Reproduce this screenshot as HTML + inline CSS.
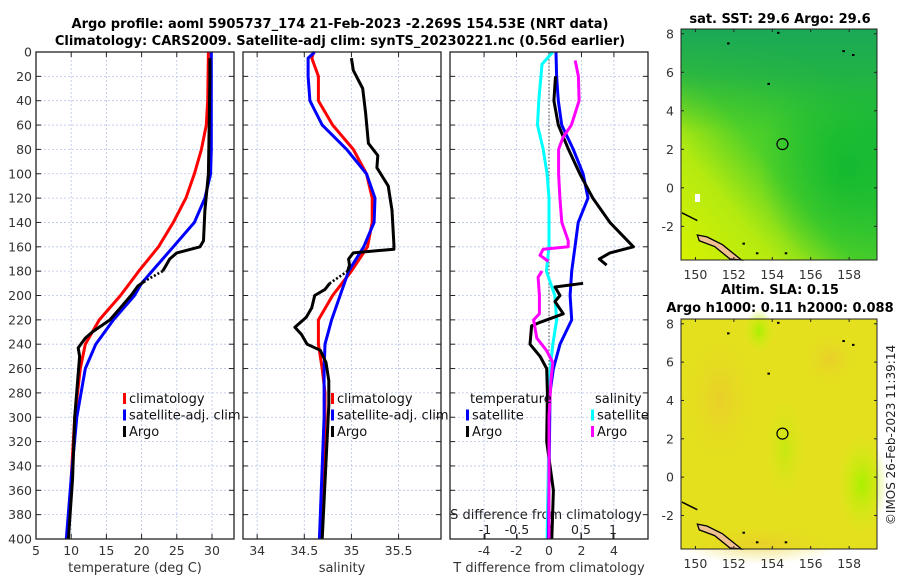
<!DOCTYPE html>
<html><head><meta charset="utf-8"><style>
body{margin:0;background:#fff;width:900px;height:580px;overflow:hidden;font-family:"Liberation Sans","DejaVu Sans",sans-serif}
svg text{font-family:"DejaVu Sans","Liberation Sans",sans-serif}
</style></head><body>
<svg id="fig" width="900" height="580" xmlns="http://www.w3.org/2000/svg">
<defs>
<linearGradient id="sstBase" x1="0" y1="1" x2="0.8" y2="0.2">
<stop offset="0" stop-color="#d8f200"/><stop offset="0.3" stop-color="#b4ea10"/><stop offset="0.55" stop-color="#50d028"/><stop offset="1" stop-color="#1cbc3c"/></linearGradient>
<linearGradient id="sstTop" x1="0" y1="0" x2="0" y2="1">
<stop offset="0" stop-color="#1aa858" stop-opacity="1"/><stop offset="0.2" stop-color="#22b048" stop-opacity="0.8"/><stop offset="0.45" stop-color="#33c030" stop-opacity="0"/></linearGradient>
<radialGradient id="sstRight" cx="0.85" cy="0.6" r="0.45"><stop offset="0" stop-color="#10b830" stop-opacity="0.9"/><stop offset="1" stop-color="#10b830" stop-opacity="0"/></radialGradient>
<radialGradient id="slaG1" cx="0.5" cy="0.5" r="0.5"><stop offset="0" stop-color="#a8f000"/><stop offset="1" stop-color="#d0ee10" stop-opacity="0"/></radialGradient>
<radialGradient id="slaO" cx="0.5" cy="0.5" r="0.5"><stop offset="0" stop-color="#ecc430"/><stop offset="1" stop-color="#e6dc20" stop-opacity="0"/></radialGradient>
</defs>
<g id="titles" font-weight="bold" font-size="13" fill="#000">
<text x="340" y="28" text-anchor="middle">Argo profile: aoml 5905737_174 21-Feb-2023 -2.269S 154.53E (NRT data)</text>
<text x="340" y="45" text-anchor="middle">Climatology: CARS2009. Satellite-adj clim: synTS_20230221.nc (0.56d earlier)</text>
<text x="780" y="23" text-anchor="middle">sat. SST: 29.6 Argo: 29.6</text>
<text x="780" y="294" text-anchor="middle">Altim. SLA: 0.15</text>
<text x="780" y="312" text-anchor="middle">Argo h1000: 0.11 h2000: 0.088</text>
</g>
<g id="panels"></g>
<g id="maps"></g>
<text transform="translate(895,435) rotate(-90)" text-anchor="middle" font-size="12" fill="#222">©IMOS 26-Feb-2023 11:39:14</text>
</svg>
<script>
// ---- data ----
const depthTicks=[0,20,40,60,80,100,120,140,160,180,200,220,240,260,280,300,320,340,360,380,400];
const tempTicks=[5,10,15,20,25,30];
const salTicks=[34,34.5,35,35.5];
const tdTicks=[-4,-2,0,2,4];
const sdTicks=[-1,-0.5,0,0.5,1];
const tClimD=[0,40,60,80,100,120,140,160,180,200,220,240,260,300,350,400];
const tClimV=[29.5,29.4,29.2,28.5,27.5,26.3,24.5,22.4,19.6,17,14,12,11.3,10.5,10,9.5];
const tSatD=[0,80,100,120,140,160,180,190,200,220,240,260,300,350,400];
const tSatV=[29.9,29.9,29.8,29,27.5,24.5,21.5,20,19,16,13.5,12,10.8,10,9.3];
const tArgoD=[5,20,60,100,130,155,160,165,170,175,180,null,188,192,200,210,220,230,235,243,250,300,350,400];
const tArgoV=[29.7,29.7,29.6,29.5,29,28.8,28.3,25,24,23.5,23,null,20.5,19.5,18.5,17,15.5,13,12,11,11.2,10.5,10.2,9.6];
const sClimD=[0,5,20,40,60,80,100,120,140,160,180,200,220,240,260,280,300,400];
const sClimV=[34.6,34.58,34.65,34.65,34.8,35.02,35.16,35.22,35.22,35.17,35,34.8,34.65,34.65,34.69,34.72,34.72,34.68];
const sSatD=[0,5,20,40,60,80,100,120,140,160,180,200,220,240,260,300,400];
const sSatV=[34.61,34.54,34.54,34.56,34.69,34.95,35.16,35.25,35.24,35.13,34.97,34.88,34.79,34.72,34.71,34.71,34.66];
const sArgoD=[5,15,30,50,75,85,95,110,130,158,162,165,170,175,180,null,190,195,200,210,218,226,232,240,245,255,270,290,400];
const sArgoV=[35,35.02,35.12,35.15,35.18,35.28,35.27,35.39,35.43,35.45,35.45,35.02,34.97,34.98,34.96,null,34.77,34.72,34.61,34.58,34.52,34.4,34.47,34.53,34.67,34.73,34.76,34.76,34.69];
const dtSatD=[0,20,40,60,80,100,120,140,160,180,200,220,240,260,280,400];
const dtSatV=[0.43,0.47,0.57,0.78,1.5,2.1,2.4,1.8,1.6,1.4,1.3,1.4,0.68,0.27,0.06,-0.04];
const dtArgoD=[20,40,60,80,100,120,140,160,165,170,175,null,190,193,200,205,215,222,225,240,250,260,280,320,360,400];
const dtArgoV=[0.4,0.3,0.57,1.2,1.9,2.7,3.75,5.2,3.75,3.1,3.55,null,2.1,0.37,0.68,0.37,0.88,-0.55,-1.07,-1.17,-0.55,-0.14,-0.1,-0.14,0.27,0.17];
const dsSatD=[0,10,40,60,80,100,120,160,180,200,220,240,260,280,400];
const dsSatV=[0.06,-0.11,-0.16,-0.18,-0.09,-0.03,0,0,-0.04,0.09,0.12,0.06,0.02,0.01,-0.03];
const dsArgoD=[7,20,40,60,70,80,100,120,140,155,160,162,167,172,null,180,185,200,215,220,235,245,255,270,300,400];
const dsArgoV=[0.41,0.46,0.47,0.35,0.22,0.15,0.15,0.17,0.2,0.3,0.3,-0.09,-0.14,-0.01,null,-0.11,-0.17,-0.15,-0.15,-0.24,-0.19,-0.04,0.06,0.03,0,0];
const mapLonTicks=[150,152,154,156,158];
const mapLatTicks=[-2,0,2,4,6,8];
const floatLon=[154.53], floatLat=[2.27];

// ---- drawing ----
const NS='http://www.w3.org/2000/svg';
const Y0=52,Y1=539;
const yD=d=>Y0+(Y1-Y0)*d/400;
function mk(tag,attrs,parent){const e=document.createElementNS(NS,tag);for(const k in attrs)e.setAttribute(k,attrs[k]);parent.appendChild(e);return e;}
function lin(a,b,px0,px1){return v=>px0+(v-a)/(b-a)*(px1-px0);}
const P=document.getElementById('panels');
const panels=[{x0:36,x1:234,lo:5,hi:33.13,ticks:tempTicks,lab:'temperature (deg C)',nm:'temperature'},
{x0:243,x1:441,lo:33.85,hi:35.95,ticks:salTicks,lab:'salinity',nm:'salinity'},
{x0:450,x1:648,lo:-6.1,hi:6.1,ticks:tdTicks,lab:'T difference from climatology',nm:'difference'}];
const xf=panels.map(p=>lin(p.lo,p.hi,p.x0,p.x1));
const xs=lin(-1.547,1.547,450,648);
panels.forEach((p,i)=>{
  const g=mk('g',{},P);
  
  
  depthTicks.forEach(d=>{const y=yD(d);
    mk('line',{x1:p.x0,x2:p.x1,y1:y,y2:y,stroke:'#b8c4e8','stroke-width':0.8,'stroke-dasharray':'2,2'},g);
    mk('line',{x1:p.x0,x2:p.x0+5,y1:y,y2:y,stroke:'#222'},g);
    mk('line',{x1:p.x1-5,x2:p.x1,y1:y,y2:y,stroke:'#222'},g);
    if(i==0){const t=mk('text',{x:p.x0-4,y:y+4.5,'text-anchor':'end','font-size':12.5,fill:'#333'},g);t.textContent=d;
      
      }
  });
  p.ticks.forEach(v=>{const x=xf[i](v);
    mk('line',{x1:x,x2:x,y1:Y0,y2:Y1,stroke:'#b8c4e8','stroke-width':0.8,'stroke-dasharray':'2,2'},g);
    mk('line',{x1:x,x2:x,y1:Y1-5,y2:Y1,stroke:'#222'},g);
    mk('line',{x1:x,x2:x,y1:Y0,y2:Y0+5,stroke:'#222'},g);
    const t=mk('text',{x:x,y:555,'text-anchor':'middle','font-size':12.5,fill:'#333'},g);t.textContent=v;
    
    
  });
  const xl=mk('text',{x:(p.x0+p.x1)/2,y:572,'text-anchor':'middle','font-size':13,fill:'#333'},g);xl.textContent=p.lab;
  
  
});
sdTicks.forEach(v=>{const x=xs(v);
  mk('line',{x1:x,x2:x,y1:Y1-5,y2:Y1,stroke:'#222'},P);
  const t=mk('text',{x:x,y:534,'text-anchor':'middle','font-size':12.5,fill:'#222'},P);t.textContent=v;
  
  
});
{const t=mk('text',{x:546,y:519,'text-anchor':'middle','font-size':13,fill:'#222'},P);t.textContent='S difference from climatology';

}
mk('line',{x1:xf[2](0),x2:xf[2](0),y1:Y0,y2:Y1,stroke:'#444','stroke-dasharray':'1.5,2','stroke-width':1},P);
function series(D,V,fx,col,name,dotGap){
  let d='',pen=false,gap='',last=null;
  D.forEach((dd,k)=>{if(dd===null){pen=false;return;}
    const x=fx(V[k]).toFixed(1),y=yD(dd).toFixed(1);
    if(!pen&&last)gap+='M'+last+'L'+x+','+y;
    d+=(pen?'L':'M')+x+','+y;pen=true;last=x+','+y;});
  if(gap&&dotGap){const e=mk('path',{d:gap,fill:'none',stroke:col,'stroke-width':2.6,'stroke-dasharray':'2,2'},P);
    
    }
  const e=mk('path',{d:d,fill:'none',stroke:col,'stroke-width':3,'stroke-linejoin':'round'},P);
  
  
}
series(tClimD,tClimV,xf[0],'#f00','temp-climatology-line');
series(tSatD,tSatV,xf[0],'#00f','temp-satellite-line');
series(tArgoD,tArgoV,xf[0],'#000','temp-argo-line',true);
series(sClimD,sClimV,xf[1],'#f00','sal-climatology-line');
series(sSatD,sSatV,xf[1],'#00f','sal-satellite-line');
series(sArgoD,sArgoV,xf[1],'#000','sal-argo-line',true);
series(dsSatD,dsSatV,xs,'#0ff','sdiff-satellite-line');
series(dtSatD,dtSatV,xf[2],'#00f','tdiff-satellite-line');
series(dtArgoD,dtArgoV,xf[2],'#000','tdiff-argo-line');
series(dsArgoD,dsArgoV,xs,'#f0f','sdiff-argo-line');
panels.forEach(p=>mk('rect',{x:p.x0,y:Y0,width:p.x1-p.x0,height:Y1-Y0,fill:'none',stroke:'#222','stroke-width':1.3},P));
function legend(x,y,items,name){
  const g=mk('g',{},P);
  
  
  items.forEach((it,k)=>{const yy=y+k*16.5;
    if(it[1])mk('rect',{x:x,y:yy-9,width:3,height:11,fill:it[1]},g);
    const t=mk('text',{x:it[1]?x+6:x,y:yy+1,'font-size':13,fill:'#111'},g);t.textContent=it[0];});
}
legend(123,402,[['climatology','#f00'],['satellite-adj. clim','#00f'],['Argo','#000']],'temp-legend');
legend(331,402,[['climatology','#f00'],['satellite-adj. clim','#00f'],['Argo','#000']],'sal-legend');
legend(470,402,[['temperature',null]],'tdiff-legend-title');
legend(466,418.5,[['satellite','#00f'],['Argo','#000']],'tdiff-legend');
legend(595,402,[['salinity',null]],'sdiff-legend-title');
legend(591,418.5,[['satellite','#0ff'],['Argo','#f0f']],'sdiff-legend');

// ---- maps ----
const M=document.getElementById('maps');
const maps=[{y0:29,y1:260,nm:'sst-map'},{y0:319,y1:549,nm:'sla-map'}];
const mx=lin(149.25,159.45,681,877);
maps.forEach((m,i)=>{
  const my=lin(-3.75,8.25,m.y1,m.y0);
  const g=mk('g',{},M);
  
  
  const W=196,H=m.y1-m.y0;
  if(i==0){
    mk('rect',{x:681,y:m.y0,width:W,height:H,fill:'url(#sstBase)'},g);
    mk('rect',{x:681,y:m.y0,width:W,height:H,fill:'url(#sstRight)'},g);
    mk('rect',{x:681,y:m.y0,width:W,height:H,fill:'url(#sstTop)'},g);
    mk('rect',{x:695,y:194,width:5,height:8,fill:'#fff'},g);
  } else {
    mk('rect',{x:681,y:m.y0,width:W,height:H,fill:'#e4e01e'},g);
    mk('ellipse',{cx:720,cy:m.y0+80,rx:40,ry:70,fill:'url(#slaO)',opacity:0.6},g);
    mk('ellipse',{cx:830,cy:m.y0+40,rx:30,ry:30,fill:'url(#slaO)',opacity:0.6},g);
    mk('ellipse',{cx:760,cy:m.y0+225,rx:80,ry:20,fill:'url(#slaO)',opacity:0.6},g);
    mk('ellipse',{cx:759,cy:m.y0+12,rx:15,ry:22,fill:'url(#slaG1)'},g);
    mk('ellipse',{cx:862,cy:m.y0+165,rx:25,ry:50,fill:'url(#slaG1)'},g);
    mk('ellipse',{cx:785,cy:m.y0+130,rx:20,ry:50,fill:'url(#slaG1)','opacity':0.5},g);
  }
  mk('path',{d:`M${mx(150.1)},${my(-2.45)} L${mx(150.6)},${my(-2.55)} L${mx(151.4)},${my(-2.95)} L${mx(152.4)},${my(-3.75)} L${mx(151.8)},${my(-3.7)} L${mx(151)},${my(-3.05)} L${mx(150.2)},${my(-2.75)} Z`,fill:'#f0c090',stroke:'#000','stroke-width':1.3},g);
  mk('path',{d:`M${mx(149.3)},${my(-1.3)} L${mx(149.9)},${my(-1.6)} L${mx(150.1)},${my(-1.7)}`,fill:'none',stroke:'#000','stroke-width':1.5},g);
  [[151.7,7.5],[152.5,-2.9],[153.8,5.4],[158.2,6.9],[157.7,7.1],[153.2,-3.4],[154.7,-3.4],[154.3,8.05]].forEach(c=>
    mk('rect',{x:mx(c[0])-1,y:my(c[1])-1,width:2.5,height:2,fill:'#000'},g));
  mk('circle',{cx:mx(floatLon[0]),cy:my(floatLat[0]),r:5.5,fill:'none',stroke:'#000','stroke-width':1.2},g);
  mk('rect',{x:681,y:m.y0,width:W,height:H,fill:'none',stroke:'#222','stroke-width':1},g);
  mapLatTicks.forEach(v=>{const y=my(v);
    mk('line',{x1:681,x2:684,y1:y,y2:y,stroke:'#222'},g);mk('line',{x1:874,x2:877,y1:y,y2:y,stroke:'#222'},g);
    const t=mk('text',{x:674,y:y+4.5,'text-anchor':'end','font-size':12.5,fill:'#333'},g);t.textContent=v;
    
    });
  mapLonTicks.forEach(v=>{const x=mx(v);
    mk('line',{x1:x,x2:x,y1:m.y1-3,y2:m.y1,stroke:'#222'},g);mk('line',{x1:x,x2:x,y1:m.y0,y2:m.y0+3,stroke:'#222'},g);
    const t=mk('text',{x:x,y:m.y1+19,'text-anchor':'middle','font-size':12.5,fill:'#333'},g);t.textContent=v;
    
    });
});
</script>
</body></html>
